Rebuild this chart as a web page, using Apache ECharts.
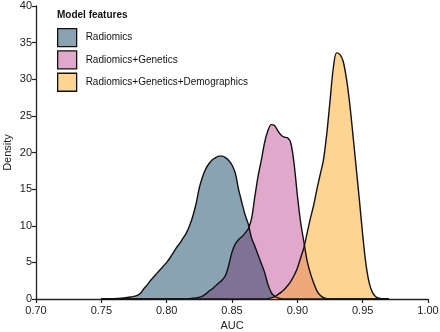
<!DOCTYPE html>
<html>
<head>
<meta charset="utf-8">
<script src="https://cdn.jsdelivr.net/npm/echarts@6/dist/echarts.min.js"></script>
<style>
  html, body { margin: 0; padding: 0; background: #fff; }
  #chart { width: 440px; height: 332px; }
</style>
</head>
<body>
<div id="chart"></div>
<script>
// AUC grid: 0.750 .. 0.970 in steps of 0.0025 (89 points)
const aucStart = 0.75
const aucStep = 0.0025

const radiomics = [
  0, 0, 0, 0.02, 0.04, 0.07, 0.1, 0.15, 0.2, 0.27,
  0.35, 0.5, 0.8, 1.4, 1.9, 2.5, 3.0, 3.5, 4.0, 4.5,
  5.0, 5.6, 6.3, 7.0, 7.6, 8.3, 9.0, 10.0, 11.3, 13.0,
  15.2, 16.7, 17.8, 18.5, 19.0, 19.3, 19.5, 19.5, 19.3, 18.9,
  18.3, 17.2, 15.0, 13.2, 11.5, 10.2, 8.3, 7.2, 6.0, 4.8,
  3.6, 2.0, 0.9, 0.4, 0.15, 0.05, 0, 0, 0, 0,
  0, 0, 0, 0, 0, 0, 0, 0, 0, 0,
  0, 0, 0, 0, 0, 0, 0, 0, 0, 0,
  0, 0, 0, 0, 0, 0, 0, 0, 0
]

const radiomicsGenetics = [
  0, 0, 0, 0, 0, 0, 0, 0, 0, 0,
  0, 0, 0, 0, 0, 0, 0, 0, 0, 0,
  0, 0, 0, 0, 0, 0, 0, 0.05, 0.1, 0.15,
  0.25, 0.4, 0.7, 1.1, 1.4, 1.8, 2.2, 2.6, 3.2, 4.6,
  6.4, 7.5, 8.1, 8.5, 9.0, 9.6, 11.0, 14.0, 16.8, 19.0,
  21.4, 23.0, 23.8, 23.7, 23.0, 22.4, 22.1, 22.0, 21.3, 18.5,
  14.2, 10.5, 7.8, 5.2, 3.5, 2.2, 1.1, 0.5, 0.2, 0.05,
  0, 0, 0, 0, 0, 0, 0, 0, 0, 0,
  0, 0, 0, 0, 0, 0, 0, 0, 0
]

const radiomicsGeneticsDemographics = [
  0, 0, 0, 0, 0, 0, 0, 0, 0, 0,
  0, 0, 0, 0, 0, 0, 0, 0, 0, 0,
  0, 0, 0, 0, 0, 0, 0, 0, 0, 0,
  0, 0, 0, 0, 0, 0, 0, 0, 0, 0,
  0, 0, 0, 0, 0, 0, 0, 0, 0, 0,
  0, 0.05, 0.15, 0.3, 0.6, 0.9, 1.3, 1.8, 2.4, 3.2,
  4.2, 5.6, 7.0, 9.0, 11.0, 12.8, 15.0, 17.0, 19.0, 22.5,
  27.0, 31.5, 33.6, 33.4, 32.5, 30.2, 26.8, 22.5, 18.0, 13.5,
  8.8, 4.8, 2.2, 0.9, 0.3, 0.1, 0, 0, 0
]

const seriesNames = ['Radiomics', 'Radiomics+Genetics', 'Radiomics+Genetics+Demographics']

const fillColors = ['#8aa3b3', '#e0a8cb', '#fdd492']
const overlapBlueColor = '#7e7394'
const overlapOrangeColor = '#eea87a'

const font = 'Liberation Sans, Arial, Helvetica, sans-serif'
const smoothness = 0.3

function toPairs(values) {
  return values.map((v, i) => [+(aucStart + i * aucStep).toFixed(4), v])
}

function minOf(a, b) {
  return a.map((v, i) => Math.min(v, b[i]))
}

function areaSeries(name, values, color) {
  return {
    name: name,
    type: 'line',
    data: toPairs(values),
    symbol: 'none',
    showSymbol: false,
    smooth: smoothness,
    silent: true,
    itemStyle: { color: color },
    lineStyle: { width: 0 },
    areaStyle: { color: color, opacity: 1 }
  }
}

function outlineSeries(name, values, color) {
  return {
    name: name + ' outline',
    type: 'line',
    data: toPairs(values),
    symbol: 'none',
    showSymbol: false,
    smooth: smoothness,
    silent: true,
    lineStyle: { color: color, width: 1.4 }
  }
}

const chart = echarts.init(document.getElementById('chart'), null, { renderer: 'canvas' })

const axisColor = '#222'

chart.setOption({
  animation: false,
  backgroundColor: '#fff',
  title: {
    text: 'Model features',
    left: 57,
    top: 10,
    padding: 0,
    textStyle: { fontFamily: font, fontSize: 10, fontWeight: 'bold', color: '#111' }
  },
  legend: {
    data: seriesNames,
    orient: 'vertical',
    left: 57,
    top: 28,
    padding: 0,
    icon: 'rect',
    itemWidth: 19,
    itemHeight: 18,
    itemGap: 3,
    selectedMode: false,
    itemStyle: { borderColor: '#111', borderWidth: 1.3 },
    lineStyle: { width: 0 },
    textStyle: { fontFamily: font, fontSize: 10, color: '#111', padding: [0, 0, 0, 4] }
  },
  // pink outline looks brownish where it runs under the yellow fill
  visualMap: {
    show: false,
    type: 'piecewise',
    dimension: 0,
    seriesIndex: 6,
    pieces: [
      { lt: 0.9055, color: '#111' },
      { gte: 0.9055, lt: 0.924, color: '#8a5c2a' },
      { gte: 0.924, color: '#111' }
    ]
  },
  grid: {
    left: 36,
    right: 12,
    top: 6,
    bottom: 33,
    containLabel: false,
    outerBoundsMode: 'none'
  },
  xAxis: {
    type: 'value',
    min: 0.7,
    max: 1.0,
    interval: 0.05,
    name: 'AUC',
    nameLocation: 'middle',
    nameGap: 21,
    nameMoveOverlap: false,
    nameTextStyle: { fontFamily: font, fontSize: 11, color: axisColor },
    axisLine: { show: true, lineStyle: { color: axisColor, width: 1.3 } },
    axisTick: { show: true, length: 4, lineStyle: { color: axisColor, width: 1.2 } },
    axisLabel: {
      fontFamily: font,
      fontSize: 11,
      color: axisColor,
      margin: 6,
      formatter: v => v.toFixed(2)
    },
    splitLine: { show: false }
  },
  yAxis: {
    type: 'value',
    min: 0,
    max: 40,
    interval: 5,
    name: 'Density',
    nameLocation: 'middle',
    nameGap: 23,
    nameMoveOverlap: false,
    nameTextStyle: { fontFamily: font, fontSize: 11, color: axisColor },
    axisLine: { show: true, lineStyle: { color: axisColor, width: 1.3 } },
    axisTick: { show: true, length: 4, lineStyle: { color: axisColor, width: 1.2 } },
    axisLabel: { fontFamily: font, fontSize: 11, color: axisColor, margin: 4 },
    splitLine: { show: false }
  },
  series: [
    areaSeries(seriesNames[0], radiomics, fillColors[0]),
    areaSeries(seriesNames[1], radiomicsGenetics, fillColors[1]),
    areaSeries(seriesNames[2], radiomicsGeneticsDemographics, fillColors[2]),
    areaSeries('overlap 1-2', minOf(radiomics, radiomicsGenetics), overlapBlueColor),
    areaSeries('overlap 2-3', minOf(radiomicsGenetics, radiomicsGeneticsDemographics), overlapOrangeColor),
    outlineSeries(seriesNames[0], radiomics, '#111'),
    outlineSeries(seriesNames[1], radiomicsGenetics, '#111'),
    outlineSeries(seriesNames[2], radiomicsGeneticsDemographics, '#111')
  ]
})
</script>
</body>
</html>
